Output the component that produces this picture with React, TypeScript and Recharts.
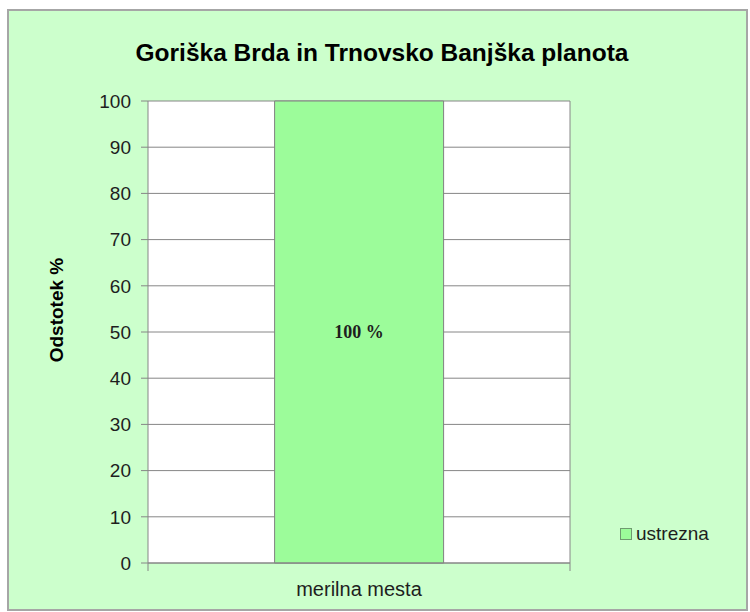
import { BarChart, Bar, XAxis, YAxis, CartesianGrid, Legend, LabelList } from "recharts";

const categories = ["merilna mesta"];
const ustrezna = [100];
const yTicks = [0, 10, 20, 30, 40, 50, 60, 70, 80, 90, 100];
const seriesName = "ustrezna";
const title = "Goriška Brda in Trnovsko Banjška planota";
const yLabel = "Odstotek %";

const data = categories.map((name, i) => ({ name, ustrezna: ustrezna[i] }));

const FONT = '"Liberation Sans", Arial, sans-serif';
const BG = "#ccffcc";
const BAR = "#9cfc9a";
const GRID = "#868686";
const TEXT = "#1e1e1e";

const X_TICK_SIZE = 8;
const X_TICK_MARGIN = 11;

// category label in the middle, tick marks on the band edges (like Excel)
function XTick(props: any) {
  const { x, y, payload } = props;
  const half = payload?.offset ?? 0;
  const axisY = y - X_TICK_SIZE - X_TICK_MARGIN;
  return (
    <g>
      <line x1={x - half} x2={x - half} y1={axisY} y2={axisY + X_TICK_SIZE} stroke={GRID} />
      <line x1={x + half} x2={x + half} y1={axisY} y2={axisY + X_TICK_SIZE} stroke={GRID} />
      <text x={x} y={y} dy="0.71em" textAnchor="middle" fontSize={20} fill={TEXT} fontFamily={FONT}>
        {payload.value}
      </text>
    </g>
  );
}

function renderLegend(props: any) {
  const { payload } = props;
  return (
    <div>
      {(payload || []).map((item: any) => (
        <div
          key={item.value}
          style={{ display: "flex", alignItems: "center", fontFamily: FONT, fontSize: 19, lineHeight: "22px", color: TEXT }}
        >
          <span
            style={{
              display: "inline-block",
              width: 10,
              height: 10,
              background: item.color,
              border: "1px solid #6f9a6f",
              marginRight: 4,
            }}
          />
          {item.value}
        </div>
      ))}
    </div>
  );
}

export default function App() {
  return (
    <div style={{ position: "absolute", left: 0, top: 0, width: 750, height: 612, background: "#fff" }}>
      <div
        style={{
          position: "absolute",
          left: 7,
          top: 9,
          width: 741,
          height: 602,
          background: BG,
          border: "2px solid #a6a6a6",
          boxSizing: "border-box",
        }}
      />
      <div style={{ position: "absolute", left: 0, top: 0 }}>
        <BarChart
          width={750}
          height={612}
          data={data}
          margin={{ top: 101, right: 179, left: 88, bottom: 19 }}
          barCategoryGap="30%"
        >
          <CartesianGrid vertical={false} stroke={GRID} fill="#fff" />
          <XAxis
            dataKey="name"
            height={30}
            tickLine={false}
            tickSize={X_TICK_SIZE}
            tickMargin={X_TICK_MARGIN}
            axisLine={{ stroke: GRID }}
            tick={<XTick />}
          />
          <YAxis
            domain={[0, 100]}
            ticks={yTicks}
            interval={0}
            width={60}
            tickSize={7}
            tickMargin={10}
            axisLine={{ stroke: GRID }}
            tickLine={{ stroke: GRID }}
            tick={{ fontSize: 19, fill: TEXT, fontFamily: FONT }}
          />
          <YAxis
            yAxisId="r"
            orientation="right"
            domain={[0, 100]}
            width={1}
            tick={false}
            tickLine={false}
            axisLine={{ stroke: GRID }}
          />
          <Legend
            layout="vertical"
            align="center"
            verticalAlign="middle"
            content={renderLegend}
            wrapperStyle={{ left: 620, top: 523, width: "auto" }}
          />
          <Bar
            dataKey="ustrezna"
            name={seriesName}
            fill={BAR}
            stroke="#808080"
            strokeWidth={1}
            isAnimationActive={false}
          >
            <LabelList
              dataKey="ustrezna"
              position="center"
              formatter={(v: any) => `${v} %`}
              fill={TEXT}
              fontSize={18}
              fontWeight="bold"
              fontFamily='"Liberation Serif", "Times New Roman", serif'
            />
          </Bar>
        </BarChart>
      </div>
      <svg width={750} height={612} style={{ position: "absolute", left: 0, top: 0, pointerEvents: "none" }}>
        <text x={382} y={61} textAnchor="middle" fontFamily={FONT} fontWeight="bold" fontSize={24.5} fill="#000">
          {title}
        </text>
        <text
          x={63}
          y={310}
          textAnchor="middle"
          transform="rotate(-90 63 310)"
          fontFamily={FONT}
          fontWeight="bold"
          fontSize={19}
          fill="#000"
        >
          {yLabel}
        </text>
      </svg>
    </div>
  );
}
